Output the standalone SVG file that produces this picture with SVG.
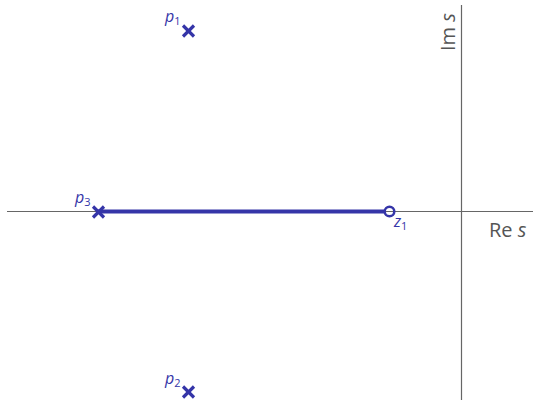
<svg xmlns="http://www.w3.org/2000/svg" width="533" height="402" viewBox="0 0 533 402">
<style>
.ax{stroke:#666;stroke-width:1.2;fill:none}
.pole{stroke:#3535a8;stroke-width:3.2;stroke-linecap:butt}
.lbl{font-family:"Open Sans","DejaVu Sans",sans-serif;font-size:16px;fill:#3535a8}
.sub{font-size:11px;font-style:normal}
.axl{font-family:"Open Sans","DejaVu Sans",sans-serif;font-size:20px;fill:#555}
</style>
<defs>
<g id="cross"><line class="pole" x1="-5.5" y1="-5.5" x2="5.5" y2="5.5"/><line class="pole" x1="-5.5" y1="5.5" x2="5.5" y2="-5.5"/></g>
</defs>
<g id="connectors">
<line class="ax" x1="7" y1="211.5" x2="533" y2="211.5"/>
<line class="ax" x1="461.5" y1="5" x2="461.5" y2="400"/>
<line x1="98" y1="211.5" x2="384" y2="211.5" stroke="#3535a8" stroke-width="4"/>
</g>
<g id="axis-labels">
<text class="axl" x="489" y="237">Re <tspan font-style="italic">s</tspan></text>
<text class="axl" transform="translate(455,51) rotate(-90)">Im <tspan font-style="italic">s</tspan></text>
</g>
<g id="p1"><use href="#cross" x="188.5" y="31"/><text class="lbl" x="165" y="22" font-style="italic">p<tspan class="sub" dy="3">1</tspan></text></g>
<g id="p2"><use href="#cross" x="188.5" y="392"/><text class="lbl" x="165" y="384" font-style="italic">p<tspan class="sub" dy="3">2</tspan></text></g>
<g id="p3"><use href="#cross" x="98.5" y="212"/><text class="lbl" x="75" y="203" font-style="italic">p<tspan class="sub" dy="3">3</tspan></text></g>
<g id="z1"><circle cx="389.5" cy="211.5" r="4.8" fill="none" stroke="#3535a8" stroke-width="2.5"/><text class="lbl" x="394" y="227" font-style="italic">z<tspan class="sub" dy="3">1</tspan></text></g>
</svg>
